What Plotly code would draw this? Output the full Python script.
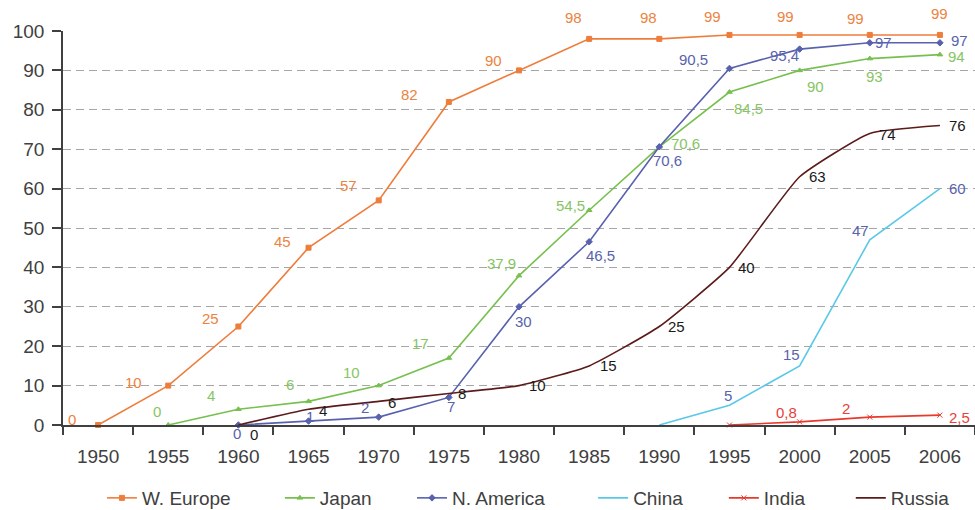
import plotly.graph_objects as go

# Category axis labels
years = ["1950", "1955", "1960", "1965", "1970", "1975", "1980",
         "1985", "1990", "1995", "2000", "2005", "2006"]

# Series values (percent), None where a series has no data yet
w_europe = [0, 10, 25, 45, 57, 82, 90, 98, 98, 99, 99, 99, 99]
japan = [None, 0, 4, 6, 10, 17, 37.9, 54.5, 70.6, 84.5, 90, 93, 94]
n_america = [None, None, 0, 1, 2, 7, 30, 46.5, 70.6, 90.5, 95.4, 97, 97]
china = [None, None, None, None, None, None, None, None, 0, 5, 15, 47, 60]
india = [None, None, None, None, None, None, None, None, None, 0, 0.8, 2, 2.5]
russia = [None, None, 0, 4, 6, 8, 10, 15, 25, 40, 63, 74, 76]

y_ticks = [0, 10, 20, 30, 40, 50, 60, 70, 80, 90, 100]

FONT = "Liberation Sans, Arial, sans-serif"
AXIS_GREY = "#404040"

# name, values, line colour, label colour, marker symbol, line shape,
# label offsets in pixels (dx right, dy down) per year, years left unlabelled
series = [
    ("W. Europe", w_europe, "#EE7D3B", "#EC8340", "square", "linear",
     [(-26, -6), (-35, -3), (-28, -8), (-26, -6), (-30, -15), (-39, -7),
      (-26, -10), (-16, -21), (-11, -21), (-17, -18), (-14, -18),
      (-14, -16), (0, -21)], set()),
    ("Japan", japan, "#77C04F", "#86C563", "triangle-up", "linear",
     [None, (-11, -14), (-27, -14), (-19, -17), (-27, -13), (-28, -15),
      (-18, -12), (-19, -5), (26, -3), (19, 16), (16, 16), (5, 18),
      (17, 2)], set()),
    ("N. America", n_america, "#5861AE", "#5863AD", "diamond", "linear",
     [None, None, (-1, 8), (1, -5), (-14, -10), (2, 9), (4, 15), (11, 14),
      (8, 14), (-36, -9), (-15, 6), (14, 0), (20, -2)], set()),
    ("China", china, "#5AC8E8", "#5863AD", None, "linear",
     [None] * 8 + [None, (-1, -10), (-8, -11), (-9, -9), (18, 0)], {"1990"}),
    ("India", india, "#E8392B", "#E8413A", "x-thin-open", "linear",
     [None] * 9 + [None, (-13, -9), (-24, -9), (20, 2)], {"1995"}),
    ("Russia", russia, "#5C1B1B", "#1A1A1A", None, "spline",
     [None, None, (16, 9), (14, 1), (13, 1), (13, 0), (18, 0), (19, 0),
      (17, 0), (17, 0), (18, 0), (18, 1), (18, 0)], set()),
]

# Left edge of each legend entry (paper x) so entries sit evenly spaced
legend_x = [0.0427, 0.2378, 0.3827, 0.5813, 0.7246, 0.8638]

fig = go.Figure()
annotations = []

for i, (name, vals, color, lcolor, symbol, shape, offs, skip) in enumerate(series):
    xs = [y for y, v in zip(years, vals) if v is not None]
    ys = [v for v in vals if v is not None]
    legend_id = "legend" if i == 0 else f"legend{i + 1}"
    trace = dict(
        x=xs, y=ys, name=name, legend=legend_id,
        line=dict(color=color, width=1.6, shape=shape, smoothing=0.45),
        cliponaxis=False, hoverinfo="x+y+name",
    )
    if symbol:
        trace["mode"] = "lines+markers"
        trace["marker"] = dict(symbol=symbol, size=5, color=color,
                               line=dict(color=color, width=1))
    else:
        trace["mode"] = "lines"
    fig.add_trace(go.Scatter(**trace))

    # value labels, placed on the category index of each year
    for idx, (yr, v, off) in enumerate(zip(years, vals, offs)):
        if v is None or off is None or yr in skip:
            continue
        txt = (f"{v:g}").replace(".", ",")
        annotations.append(go.layout.Annotation(
            x=idx, y=v, xref="x", yref="y", text=txt, showarrow=False,
            xshift=off[0], yshift=-off[1],
            font=dict(family=FONT, size=15, color=lcolor),
        ))

# legends sit in the bottom margin, positioned against the whole figure
legend_common = dict(
    orientation="h", yref="container", yanchor="middle", y=0.0235,
    xanchor="left",
    font=dict(family=FONT, size=19, color=AXIS_GREY),
    bgcolor="rgba(0,0,0,0)", borderwidth=0,
)

fig.update_layout(
    width=975, height=510,
    margin=dict(l=63, r=0, t=31, b=85),
    plot_bgcolor="white", paper_bgcolor="white",
    font=dict(family=FONT, color=AXIS_GREY),
    showlegend=True,
    xaxis=dict(
        type="category", categoryorder="array", categoryarray=years,
        range=[-0.5, len(years) - 0.5], automargin=False,
        showgrid=False, zeroline=False,
        showline=True, linecolor=AXIS_GREY, linewidth=1.5,
        ticks="outside", tickson="boundaries", ticklen=8, tickwidth=1.5,
        tickcolor=AXIS_GREY,
        tickfont=dict(family=FONT, size=19, color=AXIS_GREY),
        ticklabelstandoff=13,
    ),
    yaxis=dict(
        range=[0, 100], tickvals=y_ticks, automargin=False,
        showgrid=True, gridcolor="#A6A6A6", gridwidth=1, griddash="8px,5px",
        zeroline=False,
        showline=True, linecolor=AXIS_GREY, linewidth=1.5,
        ticks="outside", ticklen=9, tickwidth=1.5, tickcolor=AXIS_GREY,
        tickfont=dict(family=FONT, size=19, color=AXIS_GREY),
        ticklabelstandoff=4,
    ),
)
for i, lx in enumerate(legend_x):
    key = "legend" if i == 0 else f"legend{i + 1}"
    fig.update_layout({key: dict(legend_common, x=lx)})

for ann in annotations:
    fig.add_annotation(ann)

fig.write_html("out.html")
